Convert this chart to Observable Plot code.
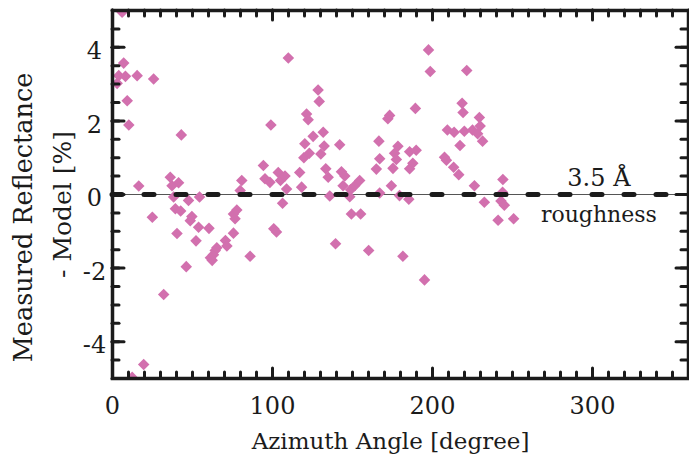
<!DOCTYPE html>
<html>
<head>
<meta charset="utf-8">
<script src="https://cdn.jsdelivr.net/npm/d3@7"></script>
<script src="https://cdn.jsdelivr.net/npm/@observablehq/plot@0.6"></script>
<style>
  html, body { margin: 0; padding: 0; background: #fff; }
  #chart { width: 689px; height: 457px; }
</style>
</head>
<body>
<div id="chart"></div>
<script>
// Azimuth angle [degree] of each measurement
const azimuth = [
  2.9, 3.9, 6.0, 7.0, 8.1, 9.2, 10.2, 12.3, 15.4, 16.4, 19.5, 24.9, 25.7, 32.0,
  36.1, 37.2, 38.2, 39.3, 40.3, 41.3, 42.6, 43.0, 46.1, 47.5, 48.6, 49.6, 52.2, 53.8, 54.4,
  60.3, 61.2, 62.3, 63.1, 64.2, 65.2, 70.6, 71.5, 75.6, 75.6, 76.6, 77.7, 79.8, 80.8, 86.0,
  94.3, 95.3, 98.4, 99.0, 100.8, 102.5, 103.6, 105.0, 106.3, 107.8, 108.8, 109.9,
  117.0, 118.2, 119.6, 120.2, 121.3, 122.3, 123.0, 125.4, 128.5, 129.2, 130.2, 131.7, 132.3,
  133.3, 134.8, 135.8, 139.4, 142.0, 143.1, 144.1, 145.2, 148.3, 148.8, 149.3, 151.4, 154.5,
  155.1, 160.1, 164.9, 166.5, 167.0, 167.0, 172.1, 173.2, 174.3, 175.3, 176.3, 177.4, 178.4,
  179.4, 181.5, 185.2, 185.7, 185.7, 187.7, 189.3, 189.8, 195.0, 197.5, 198.6,
  207.5, 208.7, 209.3, 213.2, 213.5, 216.4, 217.2, 218.5, 219.1, 219.9, 221.4, 225.0, 226.2,
  228.2, 229.3, 229.8, 231.3, 232.4, 241.0, 242.8, 243.8, 244.0, 244.9, 250.7
];
// Measured reflectance minus model [%]
const residual = [
  3.02, 3.23, 4.95, 3.57, 3.21, 2.55, 1.89, -4.97, 3.23, 0.23, -4.62, -0.62, 3.14, -2.72,
  0.47, 0.24, -0.07, -0.39, -1.06, 0.32, -0.45, 1.62, -1.96, -0.16, -0.71, -0.60, -1.26, -0.89, -0.07,
  -0.92, -1.72, -1.79, -1.64, -1.52, -1.45, -1.25, -1.40, -1.05, -0.53, -0.66, -0.42, 0.11, 0.38, -1.68,
  0.79, 0.43, 0.33, 1.89, -0.93, -1.02, 0.60, 0.38, -0.24, 0.50, 0.15, 3.71,
  0.60, 0.20, 1.00, 1.38, 2.19, 2.03, 1.12, 1.58, 2.84, 2.53, 1.10, 1.69, 1.32,
  0.70, 0.47, -0.04, -1.34, 1.35, 0.62, 0.24, 0.50, -0.06, 0.13, -0.53, 0.24, 0.38,
  -0.53, -1.52, 0.69, 1.45, 0.97, 0.04, 2.06, 2.15, 0.24, 0.71, 1.12, 0.95, 1.31,
  -0.03, -1.68, -0.13, 1.16, 0.70, 0.85, 2.34, 1.20, -2.32, 3.93, 3.34,
  1.01, 0.93, 1.75, 0.74, 1.69, 0.54, 1.33, 2.48, 2.23, 1.72, 3.37, 1.75, 0.24,
  1.65, 2.09, 1.86, 1.45, -0.21, -0.70, -0.18, 0.06, 0.41, -0.29, -0.66
];

const xDomain = [0, 360];
const yDomain = [-5, 5];
const xMajorTicks = [0, 100, 200, 300];
const xMinorTicks = d3.range(0, 361, 10);
const yMajorTicks = [-4, -2, 0, 2, 4];
const yMinorTicks = d3.range(-5, 5.01, 0.5);
const referenceLevel = [0];
const annotationX = [304];
const annotationTop = ["3.5 Å"];
const annotationBottom = ["roughness"];
const xTitle = ["Azimuth Angle [degree]"];
const yTitle1 = ["Measured Reflectance"];
const yTitle2 = ["- Model [%]"];

const points = azimuth.map((a, i) => ({a, r: residual[i]}));

const W = 689, H = 457;
const mL = 112, mR = 1, mT = 10, mB = 79;
const pw = W - mL - mR, ph = H - mT - mB;
const ink = "#1b1b1b";
const serif = "DejaVu Serif";

const tickStyle = {stroke: ink, strokeWidth: 3, strokeLinecap: "round"};

const chart = Plot.plot({
  width: W,
  height: H,
  marginLeft: mL, marginRight: mR, marginTop: mT, marginBottom: mB,
  x: {domain: xDomain},
  y: {domain: yDomain},
  style: {fontFamily: serif, fontSize: "24px", color: ink, background: "#fff", overflow: "visible"},
  marks: [
    Plot.ruleY(referenceLevel, {stroke: "#555", strokeWidth: 1}),
    Plot.dot(points, {x: "a", y: "r", symbol: "diamond2", r: 5.2, fill: "#d270ae", stroke: "none", clip: true}),
    Plot.ruleY(referenceLevel, {stroke: ink, strokeWidth: 5, strokeDasharray: "10,22", strokeLinecap: "round"}),
    // inward ticks on all four sides
    Plot.tickX(xMinorTicks, {x: d => d, insetTop: ph - 6, ...tickStyle}),
    Plot.tickX(xMinorTicks, {x: d => d, insetBottom: ph - 6, ...tickStyle}),
    Plot.tickX(xMajorTicks, {x: d => d, insetTop: ph - 10, ...tickStyle}),
    Plot.tickX(xMajorTicks, {x: d => d, insetBottom: ph - 10, ...tickStyle}),
    Plot.tickY(yMinorTicks, {y: d => d, insetRight: pw - 7, ...tickStyle}),
    Plot.tickY(yMinorTicks, {y: d => d, insetLeft: pw - 7, ...tickStyle}),
    Plot.tickY(yMajorTicks, {y: d => d, insetRight: pw - 12, ...tickStyle}),
    Plot.tickY(yMajorTicks, {y: d => d, insetLeft: pw - 12, ...tickStyle}),
    Plot.frame({stroke: ink, strokeWidth: 3.5}),
    // tick labels
    Plot.axisX({ticks: xMajorTicks, tickSize: 0, tickPadding: 18, label: null, tickFormat: d => String(d), fill: ink, fontFamily: serif, fontSize: 24}),
    Plot.axisY({ticks: yMajorTicks, tickSize: 0, tickPadding: 18, textAnchor: "middle", dy: 4, label: null, tickFormat: d => String(d), fill: ink, fontFamily: serif, fontSize: 24}),
    // titles
    Plot.text(xTitle, {frameAnchor: "bottom", textAnchor: "middle", lineAnchor: "bottom", dy: 70, dx: -10, fill: ink, fontFamily: serif, fontSize: 23}),
    Plot.text(yTitle1, {frameAnchor: "left", rotate: -90, textAnchor: "middle", lineAnchor: "middle", dx: -89, dy: 23, fill: ink, fontFamily: serif, fontSize: 25.5}),
    Plot.text(yTitle2, {frameAnchor: "left", rotate: -90, textAnchor: "middle", lineAnchor: "middle", dx: -50, dy: 10, fill: ink, fontFamily: serif, fontSize: 25}),
    // annotation
    Plot.text(annotationX, {x: d => d, y: () => 0, text: () => annotationTop[0], textAnchor: "middle", lineAnchor: "bottom", dy: -9, fill: ink, fontFamily: serif, fontSize: 24}),
    Plot.text(annotationX, {x: d => d, y: () => 0, text: () => annotationBottom[0], textAnchor: "middle", lineAnchor: "bottom", dy: 27, fill: ink, fontFamily: serif, fontSize: 22})
  ]
});
document.getElementById("chart").appendChild(chart);
</script>
</body>
</html>
